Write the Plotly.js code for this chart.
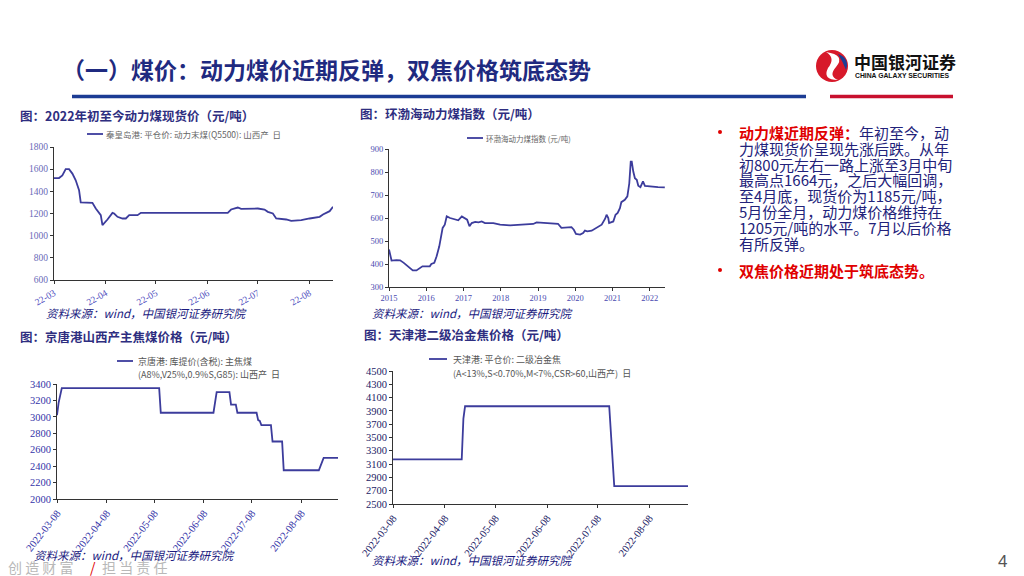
<!DOCTYPE html>
<html>
<head>
<meta charset="utf-8">
<script src="https://cdn.plot.ly/plotly-3.0.1.min.js"></script>
<style>html,body{margin:0;padding:0;background:#fff;}#chart{width:1024px;height:576px;}</style>
</head>
<body>
<div id="chart"></div>
<script>
// ---------- data ----------
const qhdDates = ['2022-03-01','2022-03-04','2022-03-06','2022-03-08','2022-03-10','2022-03-12','2022-03-14','2022-03-16','2022-03-17','2022-03-24','2022-03-26','2022-03-29','2022-03-30','2022-03-31','2022-04-02','2022-04-05','2022-04-06','2022-04-08','2022-04-11','2022-04-13','2022-04-15','2022-04-20','2022-04-22','2022-06-13','2022-06-15','2022-06-19','2022-06-21','2022-07-01','2022-07-05','2022-07-07','2022-07-10','2022-07-12','2022-07-18','2022-07-21','2022-07-27','2022-08-01','2022-08-07','2022-08-09','2022-08-13','2022-08-15'];
const qhdPrice = [1520,1520,1544,1600,1600,1560,1500,1410,1300,1296,1245,1185,1095,1110,1146,1206,1200,1170,1155,1155,1185,1185,1206,1206,1236,1254,1242,1245,1236,1215,1200,1155,1146,1134,1140,1155,1170,1191,1221,1260];

const bhDates = ['2015-01-01','2015-01-26','2015-03-15','2015-04-20','2015-05-26','2015-07-08','2015-08-22','2015-09-27','2015-10-30','2015-11-25','2016-02-05','2016-02-20','2016-03-20','2016-04-12','2016-05-08','2016-06-10','2016-07-01','2016-07-20','2016-08-22','2016-10-08','2016-11-10','2016-12-15','2017-01-15','2017-02-05','2017-02-28','2017-03-22','2017-04-25','2017-05-28','2017-06-28','2017-07-30','2017-10-20','2017-12-25','2018-04-01','2018-08-08','2018-11-15','2018-12-18','2019-04-28','2019-07-16','2019-08-18','2019-10-08','2019-11-25','2019-12-18','2020-01-08','2020-02-18','2020-03-18','2020-04-05','2020-04-28','2020-06-10','2020-07-28','2020-09-16','2020-10-20','2020-11-03','2020-11-20','2020-11-28','2021-01-08','2021-01-30','2021-02-20','2021-03-14','2021-03-28','2021-05-01','2021-05-26','2021-06-14','2021-06-28','2021-07-08','2021-07-23','2021-08-08','2021-08-26','2021-09-10','2021-10-01','2021-10-26','2021-11-14','2022-01-01','2022-03-22','2022-05-28'];
const bhIndex = [463,415,417,416,405,390,372,372,383,390,390,400,405,434,477,557,571,607,600,593,590,607,600,593,564,578,583,581,585,578,578,571,568,571,574,581,578,575,557,557,560,549,531,528,535,545,542,545,557,571,597,614,600,578,585,614,622,643,669,679,694,751,845,845,802,773,766,740,734,759,740,737,734,733];

const jtDates = ['2022-03-08','2022-03-09','2022-03-11','2022-05-11','2022-05-12','2022-06-14','2022-06-16','2022-06-24','2022-06-25','2022-06-28','2022-06-29','2022-07-11','2022-07-12','2022-07-13','2022-07-14','2022-07-20','2022-07-21','2022-07-27','2022-07-28','2022-08-19','2022-08-22','2022-08-31'];
const jtPrice = [3020,3170,3350,3350,3050,3050,3300,3300,3150,3150,3050,3050,2960,2950,2900,2900,2700,2700,2350,2350,2500,2500];

const tjDates = ['2022-03-08','2022-04-18','2022-04-19','2022-04-20','2022-07-15','2022-07-18','2022-08-31'];
const tjPrice = [3170,3170,3785,3970,3970,2770,2770];

const bulletLines1 = ['<span style="color:#e00000"><b>动力煤近期反弹：</b></span>年初至今，动','力煤现货价呈现先涨后跌。从年','初800元左右一路上涨至3月中旬','最高点1664元，之后大幅回调，','至4月底，现货价为1185元/吨，','5月份全月，动力煤价格维持在','1205元/吨的水平。7月以后价格','有所反弹。'];

// ---------- helpers ----------
const W = 1024, H = 576;
const px = x => x / W;
const py = y => 1 - y / H;
const LINE = '#3c3c9c';
const NAVY = '#22227a';
const SERIF = "'Liberation Serif', 'Times New Roman', 'DejaVu Serif', serif";
const CJK = "'Noto Sans CJK SC', 'Noto Sans', sans-serif";

function ann(text, x, y, size, color, extra) {
  return Object.assign({
    text: text, xref: 'paper', yref: 'paper', x: px(x), y: py(y),
    xanchor: 'left', yanchor: 'middle', showarrow: false,
    font: {family: CJK, size: size, color: color}
  }, extra || {});
}
function hline(x0, x1, y, color, w) {
  return {type: 'line', xref: 'paper', yref: 'paper', x0: px(x0), x1: px(x1), y0: py(y), y1: py(y), line: {color: color, width: w}};
}

function axisBase(extra) {
  return Object.assign({
    showgrid: false, zeroline: false, showline: true, linecolor: '#333', linewidth: 1,
    ticks: 'outside', ticklen: 3, tickcolor: '#333', fixedrange: true
  }, extra);
}

const traces = [
  {x: qhdDates, y: qhdPrice, xaxis: 'x', yaxis: 'y', type: 'scatter', mode: 'lines', line: {color: LINE, width: 1.8}, hoverinfo: 'skip'},
  {x: bhDates, y: bhIndex, xaxis: 'x2', yaxis: 'y2', type: 'scatter', mode: 'lines', line: {color: LINE, width: 1.8}, hoverinfo: 'skip'},
  {x: jtDates, y: jtPrice, xaxis: 'x3', yaxis: 'y3', type: 'scatter', mode: 'lines', line: {color: LINE, width: 1.8}, hoverinfo: 'skip'},
  {x: tjDates, y: tjPrice, xaxis: 'x4', yaxis: 'y4', type: 'scatter', mode: 'lines', line: {color: LINE, width: 1.8}, hoverinfo: 'skip'}
];

const tickF1 = {family: SERIF, size: 9.5, color: '#5050c0'};
const tickF3 = {family: SERIF, size: 10.5, color: '#3434a8'};
const tickF4 = {family: SERIF, size: 10.5, color: '#222266'};

const layout = {
  width: W, height: H, margin: {l: 0, r: 0, t: 0, b: 0},
  paper_bgcolor: '#ffffff', plot_bgcolor: 'rgba(0,0,0,0)', showlegend: false,
  xaxis: axisBase({domain: [px(54), px(333)], anchor: 'y', type: 'date', range: ['2022-03-01', '2022-08-15'],
    tick0: '2022-03-01', dtick: 'M1', tickformat: '%y-%m', tickangle: -30, tickfont: tickF1}),
  yaxis: axisBase({domain: [py(280), py(147)], anchor: 'x', range: [600, 1800], tick0: 600, dtick: 200, tickfont: {family: SERIF, size: 9.5, color: '#6a6ab8'}}),
  xaxis2: axisBase({domain: [px(389), px(665)], anchor: 'y2', type: 'date', range: ['2015-01-01', '2022-05-30'],
    tick0: '2015-01-01', dtick: 'M12', tickformat: '%Y', tickangle: 0, tickfont: {family: SERIF, size: 8.5, color: '#4a4ab0'}}),
  yaxis2: axisBase({domain: [py(287), py(149)], anchor: 'x2', range: [300, 900], tick0: 300, dtick: 100, tickfont: {family: SERIF, size: 8.5, color: '#4a4ab0'}}),
  xaxis3: axisBase({domain: [px(57), px(338)], anchor: 'y3', type: 'date', range: ['2022-03-08', '2022-08-31'],
    tick0: '2022-03-08', dtick: 'M1', tickformat: '%Y-%m-%d', tickangle: -52, tickfont: tickF3}),
  yaxis3: axisBase({domain: [py(499), py(384)], anchor: 'x3', range: [2000, 3400], tick0: 2000, dtick: 200, tickfont: tickF3}),
  xaxis4: axisBase({domain: [px(393), px(688)], anchor: 'y4', type: 'date', range: ['2022-03-08', '2022-08-31'],
    tick0: '2022-03-08', dtick: 'M1', tickformat: '%Y-%m-%d', tickangle: -52, tickfont: tickF4}),
  yaxis4: axisBase({domain: [py(504), py(371)], anchor: 'x4', range: [2500, 4500], tick0: 2500, dtick: 200, tickfont: tickF4}),
  shapes: [
    hline(72, 806, 96.5, '#1c3c94', 3.5),
    hline(830, 953, 96.5, '#c8102e', 3.5),
    // logo
    {type: 'circle', xref: 'paper', yref: 'paper', x0: px(816), x1: px(848), y0: py(82), y1: py(50), fillcolor: '#d7192a', line: {width: 0}},
    {type: 'path', xref: 'paper', yref: 'paper', path: 'M ' + px(826) + ',' + py(52) + ' Q ' + px(846) + ',' + py(55) + ' ' + px(836) + ',' + py(67) + ' Q ' + px(828) + ',' + py(76) + ' ' + px(838) + ',' + py(80) + ' Q ' + px(822) + ',' + py(80) + ' ' + px(828) + ',' + py(68) + ' Q ' + px(836) + ',' + py(58) + ' ' + px(826) + ',' + py(52) + ' Z', fillcolor: '#ffffff', line: {width: 0}},
    {type: 'path', xref: 'paper', yref: 'paper', path: 'M ' + px(838) + ',' + py(54) + ' Q ' + px(850) + ',' + py(58) + ' ' + px(846) + ',' + py(70) + ' Q ' + px(843) + ',' + py(62) + ' ' + px(838) + ',' + py(54) + ' Z', fillcolor: '#1c3c94', line: {width: 0}},
    // bullets
    {type: 'circle', xref: 'paper', yref: 'paper', x0: px(718), x1: px(722), y0: py(134), y1: py(130), fillcolor: '#e00000', line: {width: 0}},
    {type: 'circle', xref: 'paper', yref: 'paper', x0: px(718), x1: px(722), y0: py(272), y1: py(268), fillcolor: '#e00000', line: {width: 0}},
    // legend samples
    hline(87, 103, 134, LINE, 1.8),
    hline(467, 483, 138, LINE, 1.8),
    hline(117, 133, 361, LINE, 1.8),
    hline(429, 447, 359, LINE, 1.8)
  ],
  annotations: [
    ann('<b>（一）煤价：动力煤价近期反弹，双焦价格筑底态势</b>', 60, 69, 23, '#1f2a80'),
    ann('<b>中国银河证券</b>', 852, 62, 17, '#111'),
    ann('<b>CHINA GALAXY SECURITIES</b>', 853, 75.5, 6.5, '#111', {font: {family: 'Liberation Sans, Arial, sans-serif', size: 6.8, color: '#111'}}),

    ann('<b>图：2022年初至今动力煤现货价（元/吨）</b>', 18, 116, 12.5, '#2e2e80'),
    ann('<b>图：环渤海动力煤指数（元/吨）</b>', 358, 114, 12.5, '#2e2e80'),
    ann('<b>图：京唐港山西产主焦煤价格（元/吨）</b>', 18, 336, 12.5, '#2e2e80'),
    ann('<b>图：天津港二级冶金焦价格（元/吨）</b>', 362, 334, 12.5, '#2e2e80'),

    ann('秦皇岛港: 平仓价: 动力末煤(Q5500): 山西产  日', 104, 134, 8.5, '#666'),
    ann('环渤海动力煤指数 (元/吨)', 484, 138, 7.5, '#666'),
    ann('京唐港: 库提价(含税): 主焦煤', 136, 361, 9, '#555'),
    ann('(A8%,V25%,0.9%S,G85): 山西产  日', 136, 374, 9, '#555'),
    ann('天津港: 平仓价: 二级冶金焦', 451, 359, 9, '#555'),
    ann('(A<13%,S<0.70%,M<7%,CSR>60,山西产)  日', 451, 373, 9, '#555'),

    ann('<i>资料来源：wind，中国银河证券研究院</i>', 44, 313, 11.5, '#1a1a80'),
    ann('<i>资料来源：wind，中国银河证券研究院</i>', 370, 313, 11.5, '#1a1a80'),
    ann('<i>资料来源：wind，中国银河证券研究院</i>', 32, 555, 11.5, '#1a1a80'),
    ann('<i>资料来源：wind，中国银河证券研究院</i>', 370, 560, 11.5, '#1a1a80'),

    ann('<b>双焦价格近期处于筑底态势。</b>', 737, 270.5, 15, '#e00000'),

    ann('创 造 财 富', 6, 567, 14, '#b8b8b8'),
    ann('/', 88, 567, 14, '#e00000'),
    ann('担 当 责 任', 100, 567, 14, '#b8b8b8'),
    ann('4', 996, 561, 16, '#555', {font: {family: 'Liberation Sans, Arial, sans-serif', size: 17, color: '#555'}})
  ]
};

for (let i = 0; i < bulletLines1.length; i++) {
  layout.annotations.push(ann(bulletLines1[i], 737, 132.5 + i * 15.8, 15, NAVY));
}

Plotly.newPlot('chart', traces, layout, {staticPlot: true, displayModeBar: false});
</script>
</body>
</html>
